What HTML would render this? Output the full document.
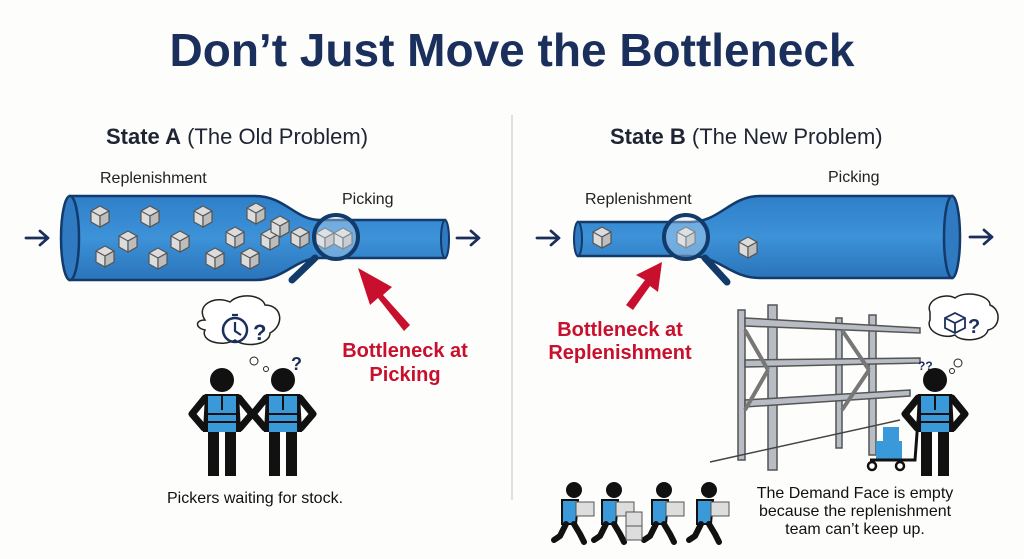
<!DOCTYPE html>
<html><head><meta charset="utf-8"><style>
html,body{margin:0;padding:0;background:#fdfdfc;}
svg{display:block;font-family:"Liberation Sans",sans-serif;}
</style></head><body>
<svg width="1024" height="559" viewBox="0 0 1024 559" xmlns="http://www.w3.org/2000/svg">
<defs>
<linearGradient id="tube" x1="0" y1="0" x2="0" y2="1">
<stop offset="0" stop-color="#2f7fc8"/><stop offset="0.5" stop-color="#3d92d8"/><stop offset="1" stop-color="#2a74ba"/></linearGradient>
<g id="box"><path d="M-9,-4 L0,-9 L9,-4 L9,7 L0,12 L-9,7Z" fill="#dcdcdc" stroke="#555" stroke-width="1.2"/><path d="M-9,-4 L0,1 L9,-4 M0,1 L0,12" fill="none" stroke="#555" stroke-width="1.2"/><path d="M0,1 L0,12 L9,7 L9,-4Z" fill="#bdbdbd" stroke="#555" stroke-width="1.2"/></g>
<g id="arr"><path d="M0,0 H22 M14,-7 L22,0 L14,7" fill="none" stroke="#1b2f5c" stroke-width="2.8" stroke-linecap="round" stroke-linejoin="round"/></g>
<g id="fig">
<circle cx="0" cy="0" r="12" fill="#111"/>
<path d="M-17,14 L17,14 L19,52 L-19,52Z" fill="#111"/>
<path d="M-17,18 L-30,34 L-18,48 M17,18 L30,34 L18,48" fill="none" stroke="#111" stroke-width="7" stroke-linejoin="round" stroke-linecap="round"/>
<rect x="-14" y="16" width="28" height="36" fill="#3a9ad9"/>
<path d="M-14,34 H14 M-14,42 H14 M0,16 V30" stroke="#111" stroke-width="2"/>
<rect x="-14" y="52" width="11" height="44" fill="#111"/><rect x="3" y="52" width="11" height="44" fill="#111"/>
</g>
<g id="run">
<circle cx="4" cy="0" r="8" fill="#111"/>
<path d="M-8,10 L8,10 L6,34 L-8,34Z" fill="#3a9ad9" stroke="#111" stroke-width="2"/>
<path d="M-4,34 L-10,46 L-16,50 M4,34 L10,44 L14,52" fill="none" stroke="#111" stroke-width="6" stroke-linecap="round" stroke-linejoin="round"/>
<rect x="6" y="12" width="18" height="14" fill="#ddd" stroke="#555"/>
</g>
</defs>

<text x="512" y="66" text-anchor="middle" font-size="46" font-weight="bold" fill="#1b2f5c">Don’t Just Move the Bottleneck</text>
<line x1="512" y1="115" x2="512" y2="500" stroke="#d6d6d6" stroke-width="1.5"/>

<!-- LEFT -->
<text x="106" y="144" font-size="22" fill="#1f2433"><tspan font-weight="bold">State A</tspan> (The Old Problem)</text>
<text x="100" y="183" font-size="16" fill="#222">Replenishment</text>
<text x="342" y="204" font-size="16" fill="#222">Picking</text>
<use href="#arr" x="26" y="238"/>
<use href="#arr" x="457" y="238"/>
<path d="M70,196 L255,196 C285,196 295,220 320,220 L445,220 L445,258 L320,258 C295,258 285,280 255,280 L70,280 Z" fill="url(#tube)" stroke="#123a6a" stroke-width="2.5"/>
<ellipse cx="70" cy="238" rx="9" ry="42" fill="#2f7ac0" stroke="#123a6a" stroke-width="2.5"/>
<ellipse cx="445" cy="239" rx="4" ry="19" fill="#2f7ac0" stroke="#123a6a" stroke-width="2"/>
<use href="#box" x="100" y="215"/><use href="#box" x="150" y="215"/><use href="#box" x="203" y="215"/><use href="#box" x="256" y="212"/>
<use href="#box" x="128" y="240"/><use href="#box" x="180" y="240"/><use href="#box" x="105" y="255"/><use href="#box" x="158" y="257"/>
<use href="#box" x="215" y="257"/><use href="#box" x="235" y="236"/><use href="#box" x="250" y="257"/><use href="#box" x="270" y="238"/>
<use href="#box" x="280" y="225"/><use href="#box" x="300" y="236"/><use href="#box" x="325" y="237"/><use href="#box" x="343" y="237"/>
<line x1="315" y1="258" x2="292" y2="280" stroke="#123a6a" stroke-width="7" stroke-linecap="round"/>
<circle cx="336" cy="237" r="22" fill="rgba(220,235,250,0.35)" stroke="#123a6a" stroke-width="4"/>
<path d="M410,325 L383,295 L392,287 L358,268 L370,305 L378,298 L404,331Z" fill="#c8102e"/>
<text x="405" y="357" text-anchor="middle" font-size="20" font-weight="bold" fill="#c8102e">Bottleneck at</text>
<text x="405" y="381" text-anchor="middle" font-size="20" font-weight="bold" fill="#c8102e">Picking</text>
<path d="M205,320 C195,305 215,295 230,302 C240,292 262,295 265,305 C282,305 285,325 270,333 C270,345 245,348 235,340 C220,348 200,340 205,330 C195,328 195,320 205,320Z" fill="#fff" stroke="#222" stroke-width="1.5"/>
<circle cx="254" cy="361" r="4" fill="#fff" stroke="#222"/><circle cx="266" cy="369" r="2.5" fill="#fff" stroke="#222"/>
<circle cx="235" cy="330" r="12" fill="none" stroke="#1b2f5c" stroke-width="2.5"/><path d="M235,322 V331 L241,335 M232,315 H238" stroke="#1b2f5c" stroke-width="2.2" fill="none"/>
<text x="253" y="340" font-size="22" font-weight="bold" fill="#1b2f5c">?</text>
<text x="291" y="370" font-size="18" font-weight="bold" fill="#1b2f5c">?</text>
<use href="#fig" x="222" y="380"/><use href="#fig" x="283" y="380"/>
<text x="255" y="503" text-anchor="middle" font-size="16" fill="#111">Pickers waiting for stock.</text>

<!-- RIGHT -->
<text x="610" y="144" font-size="22" fill="#1f2433"><tspan font-weight="bold">State B</tspan> (The New Problem)</text>
<text x="585" y="204" font-size="16" fill="#222">Replenishment</text>
<text x="828" y="182" font-size="16" fill="#222">Picking</text>
<use href="#arr" x="537" y="238"/>
<use href="#arr" x="970" y="237"/>
<path d="M578,222 L690,222 C720,222 730,196 760,196 L952,196 L952,278 L760,278 C730,278 720,256 690,256 L578,256 Z" fill="url(#tube)" stroke="#123a6a" stroke-width="2.5"/>
<ellipse cx="578" cy="239" rx="4" ry="17" fill="#2f7ac0" stroke="#123a6a" stroke-width="2"/>
<ellipse cx="952" cy="237" rx="8" ry="41" fill="#2f7ac0" stroke="#123a6a" stroke-width="2.5"/>
<use href="#box" x="602" y="236"/><use href="#box" x="686" y="236"/><use href="#box" x="748" y="246"/>
<line x1="705" y1="258" x2="727" y2="282" stroke="#123a6a" stroke-width="7" stroke-linecap="round"/>
<circle cx="686" cy="237" r="22" fill="rgba(220,235,250,0.35)" stroke="#123a6a" stroke-width="4"/>
<path d="M626,305 L645,280 L636,275 L662,262 L658,292 L650,286 L633,310Z" fill="#c8102e"/>
<text x="620" y="336" text-anchor="middle" font-size="20" font-weight="bold" fill="#c8102e">Bottleneck at</text>
<text x="620" y="359" text-anchor="middle" font-size="20" font-weight="bold" fill="#c8102e">Replenishment</text>
<g stroke="#555" stroke-width="1.5" fill="#b8bcc4">
<rect x="738" y="310" width="7" height="150"/><rect x="768" y="305" width="9" height="165"/>
<rect x="836" y="318" width="6" height="130"/><rect x="869" y="315" width="7" height="140"/>
<path d="M745,318 L920,328 L920,333 L745,326Z"/><path d="M745,360 L920,358 L920,363 L745,367Z"/><path d="M745,400 L910,390 L910,396 L745,407Z"/>
</g>
<path d="M745,330 L768,370 M745,410 L768,370 M842,330 L869,370 M842,410 L869,370" stroke="#777" stroke-width="4"/>
<line x1="710" y1="462" x2="900" y2="420" stroke="#444" stroke-width="1.5"/>
<path d="M930,312 C925,300 945,292 955,298 C965,290 990,295 990,305 C1002,310 1000,328 988,330 C985,342 960,342 955,335 C942,340 925,330 930,320Z" fill="#fff" stroke="#222" stroke-width="1.5"/>
<path d="M945,318 L955,313 L965,318 L965,328 L955,333 L945,328Z M945,318 L955,323 L965,318 M955,323 V333" fill="none" stroke="#1b2f5c" stroke-width="1.8"/>
<text x="968" y="333" font-size="20" font-weight="bold" fill="#1b2f5c">?</text>
<circle cx="958" cy="363" r="4" fill="#fff" stroke="#222"/><circle cx="952" cy="371" r="2.5" fill="#fff" stroke="#222"/>
<text x="918" y="370" font-size="12" font-weight="bold" fill="#1b2f5c">??</text>
<rect x="883" y="427" width="16" height="14" fill="#3a9ad9"/><rect x="876" y="441" width="26" height="18" fill="#3a9ad9"/>
<path d="M870,460 H915 L918,420" fill="none" stroke="#111" stroke-width="3"/>
<circle cx="872" cy="466" r="4" fill="#fff" stroke="#111" stroke-width="2.5"/><circle cx="900" cy="466" r="4" fill="#fff" stroke="#111" stroke-width="2.5"/>
<use href="#fig" x="935" y="380"/>
<use href="#run" x="570" y="490"/><use href="#run" x="610" y="490"/><use href="#run" x="660" y="490"/><use href="#run" x="705" y="490"/>
<rect x="626" y="512" width="16" height="14" fill="#ddd" stroke="#555"/><rect x="626" y="526" width="16" height="14" fill="#ddd" stroke="#555"/>
<text x="855" y="498" text-anchor="middle" font-size="16" fill="#111">The Demand Face is empty</text>
<text x="855" y="516" text-anchor="middle" font-size="16" fill="#111">because the replenishment</text>
<text x="855" y="534" text-anchor="middle" font-size="16" fill="#111">team can’t keep up.</text>
</svg>
</body></html>
